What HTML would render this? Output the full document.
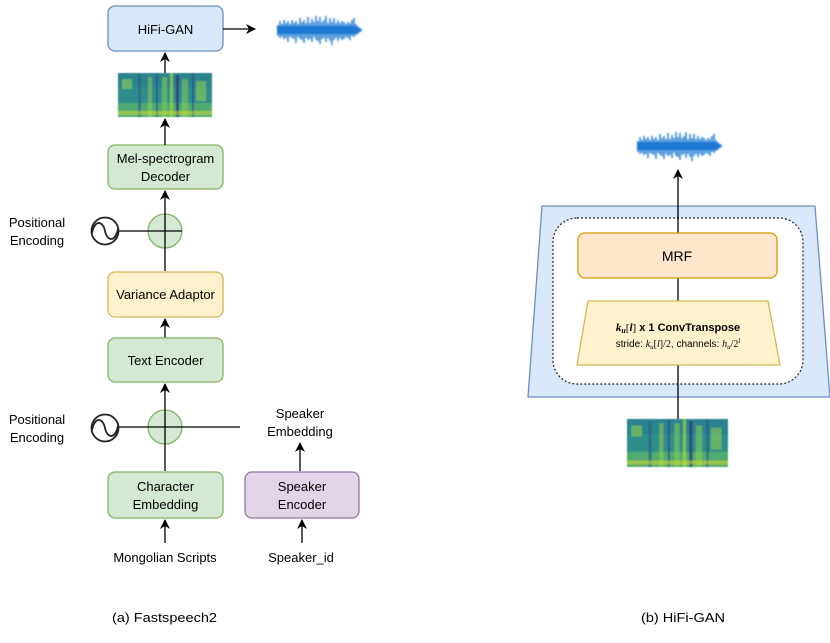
<!DOCTYPE html>
<html><head><meta charset="utf-8"><style>
html,body{margin:0;padding:0;background:#fff;}
svg{display:block;font-family:"Liberation Sans",sans-serif;}
</style></head><body>
<svg width="830" height="643" viewBox="0 0 830 643" xmlns="http://www.w3.org/2000/svg">
<defs>
<filter id="bl" x="-10%" y="-20%" width="120%" height="140%"><feGaussianBlur stdDeviation="0.7"/></filter>
<filter id="bl2"><feGaussianBlur stdDeviation="0.6"/></filter>
<marker id="ah" markerWidth="10" markerHeight="10" refX="9" refY="5" orient="auto" markerUnits="userSpaceOnUse">
<path d="M0,0 L10,5 L0,10 L3,5 Z" fill="#000"/>
</marker>
<g id="spec" filter="url(#bl2)">
<rect x="0" y="0" width="94" height="44" fill="#2f8f8a"/>
<rect x="0" y="0" width="94" height="14" fill="#2a7f8e" opacity="0.7"/>
<rect x="0" y="30" width="94" height="14" fill="#6cc25a" opacity="0.55"/>
<rect x="4" y="6" width="10" height="10" fill="#8fd14f" opacity="0.6"/>
<rect x="20" y="2" width="3" height="42" fill="#2c5f8a" opacity="0.7"/>
<rect x="30" y="4" width="4" height="40" fill="#9ad34c" opacity="0.5"/>
<rect x="38" y="0" width="2" height="44" fill="#2c4f8a" opacity="0.7"/>
<rect x="44" y="4" width="5" height="40" fill="#7ccc57" opacity="0.6"/>
<rect x="52" y="0" width="3" height="44" fill="#b5de2b" opacity="0.6"/>
<rect x="58" y="2" width="3" height="42" fill="#2c3e7a" opacity="0.8"/>
<rect x="64" y="6" width="6" height="38" fill="#8fd14f" opacity="0.5"/>
<rect x="74" y="0" width="2" height="44" fill="#2c4f8a" opacity="0.7"/>
<rect x="78" y="8" width="10" height="20" fill="#a0d64a" opacity="0.5"/>
<rect x="0" y="38" width="94" height="4" fill="#d8e030" opacity="0.5"/>
</g>
<g id="wave" filter="url(#bl)">
<path stroke="#1f78d1" stroke-width="1.4" opacity="1" d="M1,-5V6 M3,-9V8 M5,-6V7 M7,-10V9 M9,-7V8 M11,-9V12 M13,-6V7 M15,-10V8 M17,-7V9 M19,-9V13 M21,-6V7 M23,-12V9 M25,-8V10 M27,-10V13 M29,-7V8 M31,-13V10 M33,-7V9 M35,-11V12 M37,-8V7 M39,-14V10 M41,-9V11 M43,-13V14 M45,-8V9 M47,-10V8 M49,-14V12 M51,-7V8 M53,-12V11 M55,-8V15 M57,-12V10 M59,-7V8 M61,-10V11 M63,-7V8 M65,-9V10 M67,-8V9 M69,-6V7 M71,-8V8 M73,-7V10 M75,-10V6 M77,-12V7 M79,-6V5 M81,-4V4 M83,-2V2"/>
<path d="M0,-4 L78,-4 L86,0 L78,4 L0,4 Z" fill="#1f78d1"/>
</g>
</defs>

<rect x="108" y="6" width="115" height="45" rx="7" fill="#dae8fc" stroke="#6c8ebf" stroke-width="1.3"/>
<text x="165.5" y="34" font-size="13" text-anchor="middle">HiFi-GAN</text>
<line x1="223" y1="29" x2="255" y2="29" stroke="#000" stroke-width="1.3" marker-end="url(#ah)"/>
<use href="#wave" x="277" y="30"/>

<use href="#spec" x="118" y="73"/>
<line x1="165" y1="73" x2="165" y2="53" stroke="#000" stroke-width="1.3" marker-end="url(#ah)"/>

<rect x="108" y="145" width="115" height="44" rx="7" fill="#d5e8d4" stroke="#82b366" stroke-width="1.3"/>
<text x="165.5" y="163" font-size="13" text-anchor="middle">Mel-spectrogram</text>
<text x="165.5" y="181" font-size="13" text-anchor="middle">Decoder</text>
<line x1="165" y1="145" x2="165" y2="119" stroke="#000" stroke-width="1.3" marker-end="url(#ah)"/>

<circle cx="165" cy="231" r="17" fill="#d5e8d4" stroke="#82b366" stroke-width="1.3"/>
<line x1="119" y1="231" x2="182" y2="231" stroke="#000" stroke-width="1.3"/>
<line x1="165" y1="271" x2="165" y2="191" stroke="#000" stroke-width="1.3" marker-end="url(#ah)"/>
<circle cx="105" cy="231" r="13.5" fill="#fff" stroke="#222" stroke-width="1.8"/>
<path d="M92,233 C95,219 103,221 105,231 C107,241 115,243 118,229" fill="none" stroke="#222" stroke-width="1.8"/>
<text x="37" y="227" font-size="13" text-anchor="middle">Positional</text>
<text x="37" y="245" font-size="13" text-anchor="middle">Encoding</text>

<rect x="108" y="272" width="115" height="45" rx="7" fill="#fff2cc" stroke="#d6b656" stroke-width="1.3"/>
<text x="165.5" y="299" font-size="13" text-anchor="middle">Variance Adaptor</text>
<line x1="165" y1="338" x2="165" y2="319" stroke="#000" stroke-width="1.3" marker-end="url(#ah)"/>

<rect x="108" y="338" width="115" height="44" rx="7" fill="#d5e8d4" stroke="#82b366" stroke-width="1.3"/>
<text x="165.5" y="365" font-size="13" text-anchor="middle">Text Encoder</text>

<circle cx="165" cy="427" r="17" fill="#d5e8d4" stroke="#82b366" stroke-width="1.3"/>
<line x1="119" y1="427" x2="240" y2="427" stroke="#000" stroke-width="1.3"/>
<line x1="165" y1="471" x2="165" y2="384" stroke="#000" stroke-width="1.3" marker-end="url(#ah)"/>
<circle cx="105" cy="428" r="13.5" fill="#fff" stroke="#222" stroke-width="1.8"/>
<path d="M92,430 C95,416 103,418 105,428 C107,438 115,440 118,426" fill="none" stroke="#222" stroke-width="1.8"/>
<text x="37" y="424" font-size="13" text-anchor="middle">Positional</text>
<text x="37" y="442" font-size="13" text-anchor="middle">Encoding</text>

<text x="300" y="418" font-size="13" text-anchor="middle">Speaker</text>
<text x="300" y="436" font-size="13" text-anchor="middle">Embedding</text>
<line x1="300" y1="471" x2="300" y2="443" stroke="#000" stroke-width="1.3" marker-end="url(#ah)"/>

<rect x="108" y="472" width="115" height="46" rx="7" fill="#d5e8d4" stroke="#82b366" stroke-width="1.3"/>
<text x="165.5" y="491" font-size="13" text-anchor="middle">Character</text>
<text x="165.5" y="509" font-size="13" text-anchor="middle">Embedding</text>
<rect x="245" y="472" width="114" height="46" rx="7" fill="#e1d5e7" stroke="#9673a6" stroke-width="1.3"/>
<text x="302" y="491" font-size="13" text-anchor="middle">Speaker</text>
<text x="302" y="509" font-size="13" text-anchor="middle">Encoder</text>

<line x1="165" y1="543" x2="165" y2="520" stroke="#000" stroke-width="1.3" marker-end="url(#ah)"/>
<line x1="302" y1="543" x2="302" y2="520" stroke="#000" stroke-width="1.3" marker-end="url(#ah)"/>
<text x="165" y="562" font-size="13" text-anchor="middle">Mongolian Scripts</text>
<text x="301" y="562" font-size="13" text-anchor="middle">Speaker_id</text>

<text x="112" y="622" font-size="13" textLength="105" lengthAdjust="spacingAndGlyphs">(a) Fastspeech2</text>
<text x="641" y="622" font-size="13" textLength="84" lengthAdjust="spacingAndGlyphs">(b) HiFi-GAN</text>

<path d="M542,206 L815,206 L830,397 L528,397 Z" fill="#dae8fc" stroke="#6c8ebf" stroke-width="1.3"/>
<rect x="553" y="218" width="250" height="166" rx="24" fill="#fff" stroke="#222" stroke-width="1.2" stroke-dasharray="2,2"/>
<line x1="678" y1="419" x2="678" y2="170" stroke="#000" stroke-width="1.3" marker-end="url(#ah)"/>
<rect x="578" y="233" width="199" height="45" rx="7" fill="#ffe6cc" stroke="#d79b00" stroke-width="1.3"/>
<text x="677" y="261" font-size="14" text-anchor="middle">MRF</text>
<path d="M588,301 L768,301 L780,365 L577,365 Z" fill="#fff2cc" stroke="#d6b656" stroke-width="1.3"/>
<text x="678" y="331" font-size="11" text-anchor="middle" font-weight="bold"><tspan font-family="Liberation Serif,serif" font-style="italic">k<tspan font-size="8" dy="2">u</tspan><tspan dy="-2" font-style="normal" font-weight="normal">[</tspan>l<tspan font-style="normal" font-weight="normal">]</tspan></tspan> x 1  ConvTranspose</text>
<text x="678" y="347" font-size="10" text-anchor="middle">stride: <tspan font-family="Liberation Serif,serif" font-style="italic">k<tspan font-size="7" dy="2">u</tspan><tspan dy="-2" font-style="normal">[</tspan>l<tspan font-style="normal">]/2</tspan></tspan>, channels: <tspan font-family="Liberation Serif,serif" font-style="italic">h<tspan font-size="7" dy="2">u</tspan><tspan dy="-2" font-style="normal">/2</tspan><tspan font-size="7" dy="-4">l</tspan></tspan></text>
<use href="#wave" x="637" y="146"/>
<g transform="translate(627,419) scale(1.074,1.09)"><use href="#spec"/></g>
</svg>
</body></html>
